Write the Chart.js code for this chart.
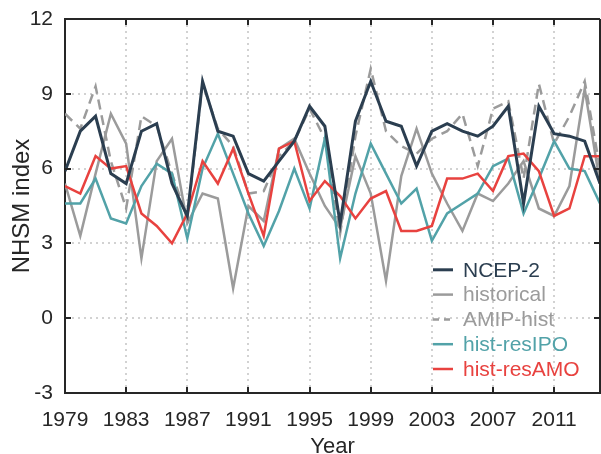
<!DOCTYPE html>
<html>
<head>
<meta charset="utf-8">
<script src="https://cdn.jsdelivr.net/npm/chart.js@4/dist/chart.umd.min.js"></script>
<style>
html,body{margin:0;padding:0;background:#ffffff;}
#wrap{width:601px;height:454px;position:relative;}
</style>
</head>
<body>
<div id="wrap"><canvas id="c" width="601" height="454"></canvas></div>
<script>
// ---- data ----
const years = [1979,1980,1981,1982,1983,1984,1985,1986,1987,1988,
               1989,1990,1991,1992,1993,1994,1995,1996,1997,1998,
               1999,2000,2001,2002,2003,2004,2005,2006,2007,2008,
               2009,2010,2011,2012,2013,2014];
const xTickLabels = [1979,1983,1987,1991,1995,1999,2003,2007,2011];
const yTickLabels = [-3,0,3,6,9,12];
const seriesNames = ['NCEP-2','historical','AMIP-hist','hist-resIPO','hist-resAMO'];

const ncep2 = [5.9,7.5,8.1,5.8,5.4,7.5,7.8,5.4,4.1,9.5,
               7.5,7.3,5.8,5.5,6.3,7.1,8.5,7.7,3.8,7.9,
               9.5,7.9,7.7,6.1,7.5,7.8,7.5,7.3,7.7,8.5,
               4.6,8.5,7.4,7.3,7.1,5.4];
const historical = [5.4,3.3,5.8,8.2,7.0,2.4,6.3,7.2,3.8,5.0,
                    4.8,1.2,4.5,3.9,6.8,7.2,5.8,4.5,3.6,6.5,
                    5.0,1.5,5.7,7.6,5.8,4.6,3.5,5.0,4.7,5.4,
                    6.3,4.4,4.1,5.3,9.2,5.4];
const amipHist = [8.2,7.6,9.3,6.3,4.4,8.1,7.7,5.8,4.0,9.4,
                  7.6,6.9,5.0,5.1,6.5,7.1,8.4,7.2,3.4,7.3,
                  10.0,7.5,6.9,6.6,7.2,7.5,8.2,6.1,8.4,8.7,
                  5.6,9.4,7.0,8.1,9.5,6.0];
const histResIPO = [4.6,4.6,5.6,4.0,3.8,5.3,6.2,5.8,3.2,6.0,
                    7.4,5.8,4.2,2.9,4.3,6.0,4.4,7.2,2.4,5.0,
                    7.0,5.8,4.6,5.2,3.1,4.2,4.6,5.0,6.1,6.4,
                    4.2,5.6,7.1,6.0,5.9,4.6];
const histResAMO = [5.3,5.0,6.5,6.0,6.1,4.2,3.7,3.0,4.2,6.3,
                    5.4,6.8,5.0,3.3,6.8,7.1,4.7,5.5,4.9,4.0,
                    4.8,5.1,3.5,3.5,3.7,5.6,5.6,5.8,5.1,6.5,
                    6.6,5.9,4.1,4.4,6.5,6.5];

// ---- styles ----
const FONT = "'Liberation Sans', Arial, Helvetica, sans-serif";
const INK = '#262626';
const styles = [
  {color:'#2b3e50', width:3,   dash:[],     order:0},
  {color:'#9b9b9b', width:2.5, dash:[],     order:4},
  {color:'#9b9b9b', width:2.5, dash:[10,6], order:3},
  {color:'#52a2a8', width:2.5, dash:[],     order:2},
  {color:'#e8423f', width:2.5, dash:[],     order:1}
];
const seriesValues = [ncep2, historical, amipHist, histResIPO, histResAMO];

const datasets = seriesValues.map((vals, k) => ({
  label: seriesNames[k],
  data: vals.map((v, i) => ({x: years[i], y: v})),
  borderColor: styles[k].color,
  backgroundColor: styles[k].color,
  borderWidth: styles[k].width,
  borderDash: styles[k].dash,
  pointRadius: 0,
  tension: 0,
  fill: false,
  order: styles[k].order,
  borderJoinStyle: 'miter'
}));

// frame (top/right), inward ticks and legend
const framePlugin = {
  id: 'frameAndLegend',
  afterDraw(chart) {
    const ctx = chart.ctx;
    const a = chart.chartArea;
    const xs = chart.scales.x, ys = chart.scales.y;
    ctx.save();
    ctx.strokeStyle = INK;
    ctx.lineWidth = 2;
    ctx.beginPath();
    ctx.moveTo(a.left, a.top); ctx.lineTo(a.right, a.top);
    ctx.moveTo(a.right, a.top); ctx.lineTo(a.right, a.bottom);
    ctx.stroke();
    const tl = 6;
    ctx.beginPath();
    xs.ticks.forEach(t => {
      const px = Math.round(xs.getPixelForValue(t.value));
      ctx.moveTo(px, a.bottom); ctx.lineTo(px, a.bottom - tl);
      ctx.moveTo(px, a.top); ctx.lineTo(px, a.top + tl);
    });
    ys.ticks.forEach(t => {
      const py = Math.round(ys.getPixelForValue(t.value));
      ctx.moveTo(a.left, py); ctx.lineTo(a.left + tl, py);
      ctx.moveTo(a.right, py); ctx.lineTo(a.right - tl, py);
    });
    ctx.stroke();

    // legend
    const n = chart.data.datasets.length;
    const rowH = 24.8;
    const baseY = a.bottom - 24;
    const x0 = a.right - 167, x1 = a.right - 147, tx = a.right - 137;
    ctx.font = '21px ' + FONT;
    ctx.textBaseline = 'middle';
    ctx.textAlign = 'left';
    chart.data.datasets.forEach((ds, i) => {
      const y = baseY - (n - 1 - i) * rowH;
      ctx.strokeStyle = ds.borderColor;
      ctx.lineWidth = ds.borderWidth;
      ctx.setLineDash(ds.borderDash && ds.borderDash.length ? [6,5] : []);
      ctx.beginPath();
      ctx.moveTo(x0, y); ctx.lineTo(x1, y);
      ctx.stroke();
      ctx.setLineDash([]);
      ctx.fillStyle = ds.borderColor;
      ctx.fillText(ds.label, tx, y + 1);
    });
    ctx.restore();
  }
};

new Chart(document.getElementById('c'), {
  type: 'line',
  data: { datasets },
  options: {
    responsive: false,
    animation: false,
    devicePixelRatio: 1,
    layout: { padding: { top: 19, right: 1, left: 0, bottom: 0 } },
    plugins: { legend: { display: false }, tooltip: { enabled: false } },
    scales: {
      x: {
        type: 'linear',
        min: years[0],
        max: years[years.length - 1],
        afterBuildTicks: s => { s.ticks = xTickLabels.map(v => ({ value: v })); },
        afterFit: s => { s.height = 61; },
        ticks: {
          autoSkip: false, maxRotation: 0, padding: 15, color: INK,
          font: { family: FONT, size: 21 },
          callback: v => String(v)
        },
        grid: { color: '#d2d2d2', lineWidth: 2, drawTicks: false },
        border: { display: true, color: INK, width: 2, dash: [2, 4] },
        title: {
          display: true, text: 'Year', color: INK,
          font: { family: FONT, size: 22, lineHeight: 0.65 },
          padding: { top: 0, bottom: 0 }
        }
      },
      y: {
        type: 'linear',
        min: -3,
        max: 12,
        afterBuildTicks: s => { s.ticks = yTickLabels.map(v => ({ value: v })); },
        afterFit: s => { s.width = 65; },
        ticks: {
          padding: 12, color: INK,
          font: { family: FONT, size: 21, lineHeight: 0.6 },
          callback: v => String(v)
        },
        grid: { color: '#d2d2d2', lineWidth: 2, drawTicks: false },
        border: { display: true, color: INK, width: 2, dash: [2, 4] },
        title: {
          display: true, text: 'NHSM index', color: INK,
          font: { family: FONT, size: 24, lineHeight: 1.2 },
          padding: { top: 8, bottom: 0 }
        }
      }
    }
  },
  plugins: [framePlugin]
});
</script>
</body>
</html>
